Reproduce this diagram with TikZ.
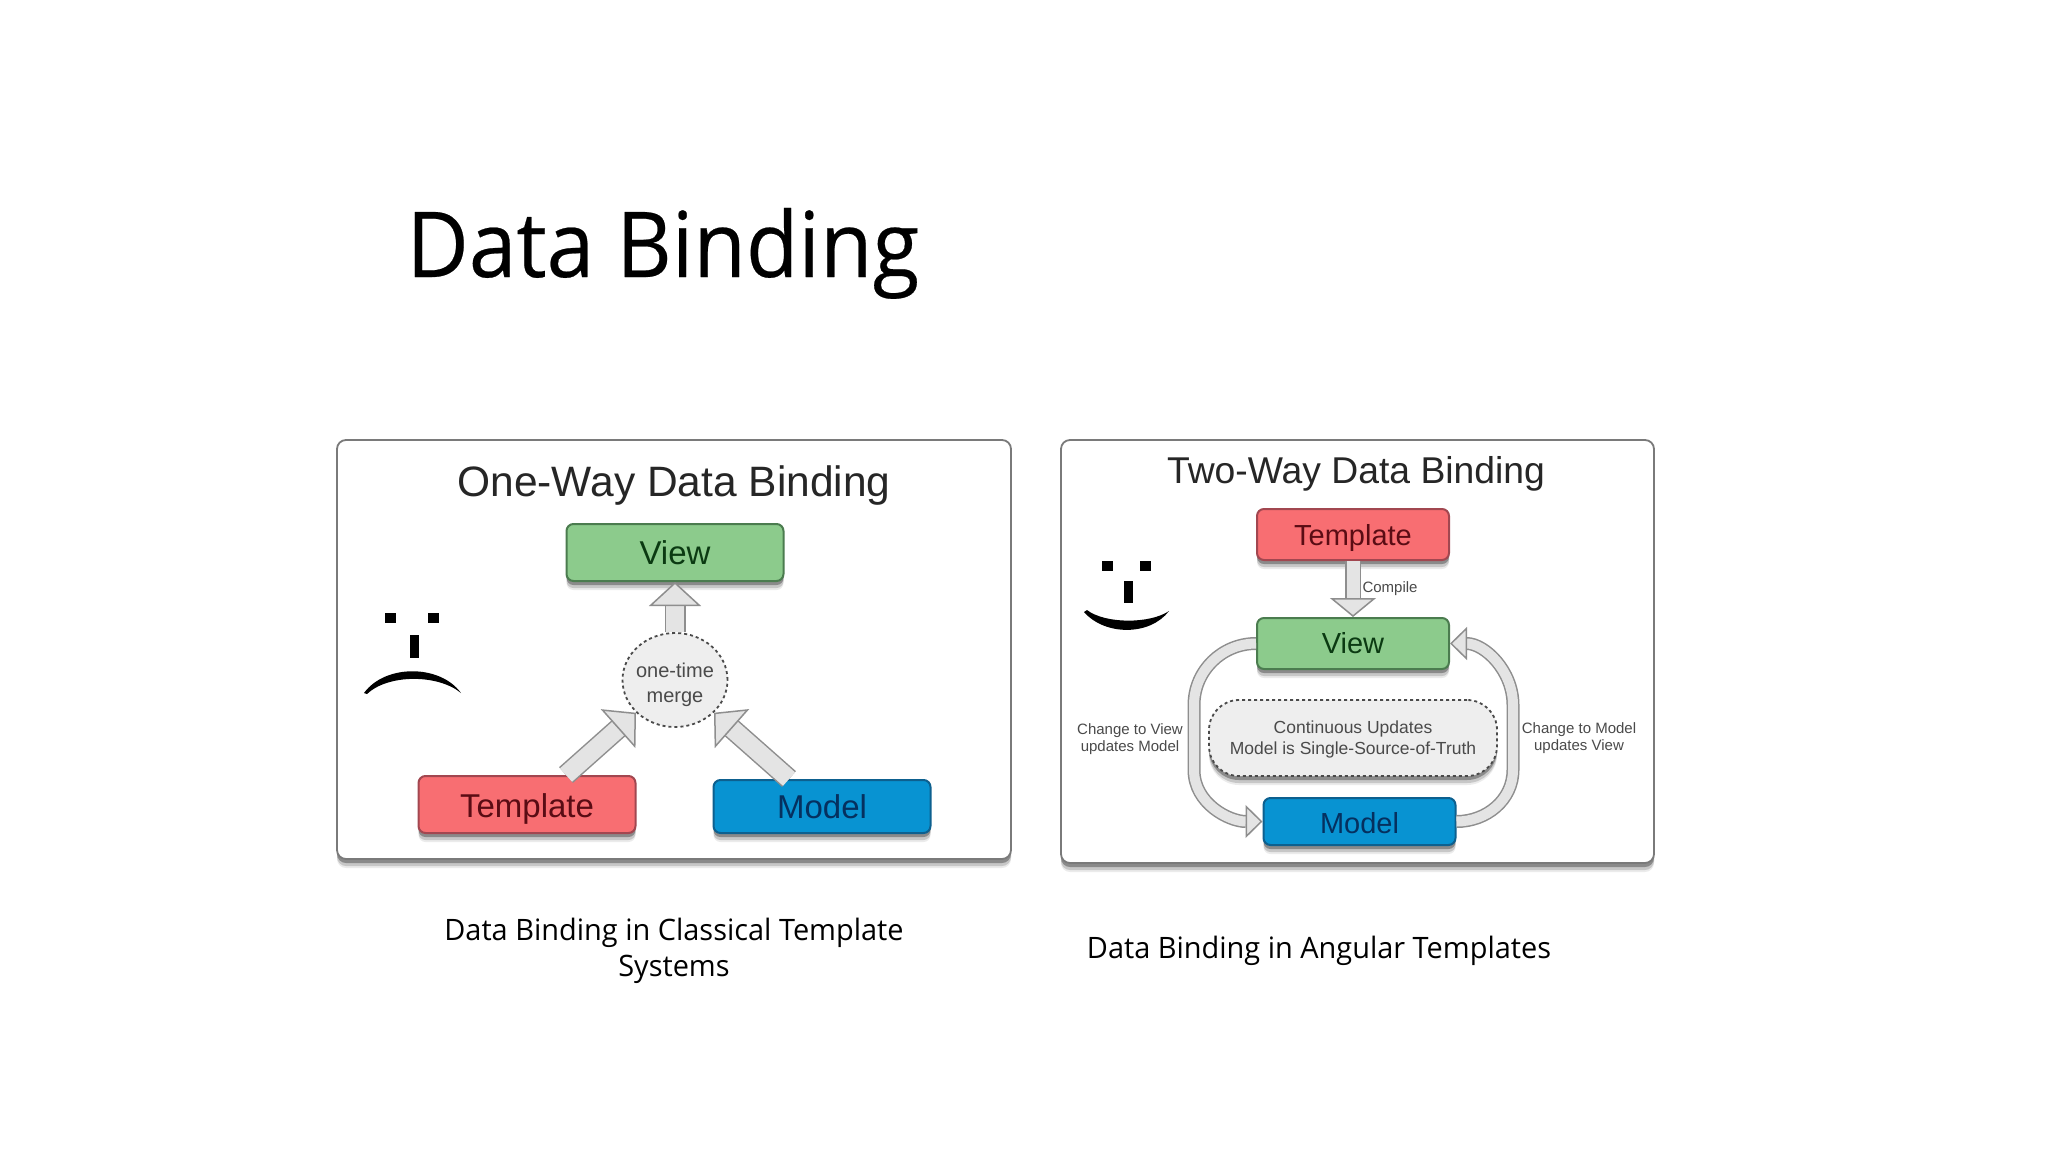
\documentclass[tikz,border=0pt]{standalone}
\usepackage{fontspec}
\setmainfont{Liberation Sans}
\newfontfamily\slidefont[FakeStretch=0.94,FakeBold=0.25]{Open Sans}
\newfontfamily\capfont[FakeStretch=0.98]{Open Sans}
\usetikzlibrary{arrows.meta,shapes.geometric,shadows,calc}
\newcommand{\lowertext}[2]{\raisebox{-#1}[\height][\depth]{#2}}
\definecolor{cardline}{HTML}{7A7A7A}
\definecolor{greenfill}{HTML}{8CCB8C}
\definecolor{greenline}{HTML}{4B7C4F}
\definecolor{greentext}{HTML}{0B3A12}
\definecolor{redfill}{HTML}{F86E72}
\definecolor{redline}{HTML}{A24750}
\definecolor{redtext}{HTML}{5A0C14}
\definecolor{bluefill}{HTML}{0893D2}
\definecolor{blueline}{HTML}{0D608F}
\definecolor{bluetext}{HTML}{05305F}
\definecolor{arrowfill}{HTML}{E4E4E4}
\definecolor{arrowline}{HTML}{8E8E8E}
\definecolor{softfill}{HTML}{EEEEEE}
\definecolor{softtext}{HTML}{4A4A4A}
\tikzset{
  softshadow/.style={drop shadow={shadow xshift=0pt,shadow yshift=-9pt,opacity=.08,fill=black},
                     drop shadow={shadow xshift=0pt,shadow yshift=-7pt,opacity=.15,fill=black},
                     drop shadow={shadow xshift=0pt,shadow yshift=-4pt,opacity=.30,fill=black}},
  card/.style={draw=cardline,line width=1.8pt,fill=white,rounded corners=9pt,softshadow},
  boxbase/.style={rectangle,rounded corners=7pt,line width=2pt,inner sep=0pt,softshadow},
  greenbox/.style={boxbase,draw=greenline,fill=greenfill,text=greentext},
  redbox/.style={boxbase,draw=redline,fill=redfill,text=redtext},
  bluebox/.style={boxbase,draw=blueline,fill=bluefill,text=bluetext},
  softdash/.style={draw=softtext,fill=softfill,dashed,line width=1.8pt,text=softtext,align=center},
  cardtitle/.style={text=black!85,inner sep=0pt},
  note/.style={text=softtext,align=center,inner sep=0pt},
  slidetext/.style={text=black,inner sep=0pt,align=center},
  bigarrow/.style={draw=arrowline,double=arrowfill,line width=1.5pt,double distance=18pt,
    -{Triangle[length=24pt,width=52pt,fill=arrowfill,line width=1.5pt]}},
  midarrow/.style={draw=arrowline,double=arrowfill,line width=1.5pt,double distance=13pt,
    -{Triangle[length=19pt,width=46pt,fill=arrowfill,line width=1.5pt]}},
  looparrow/.style={draw=arrowline,double=arrowfill,line width=1.5pt,double distance=10pt,
    -{Triangle[length=17pt,width=33pt,fill=arrowfill,line width=1.5pt]}},
}
\begin{document}
\begin{tikzpicture}[x=1pt,y=-1pt]
\useasboundingbox (0,0) rectangle (2048,1152);
\fill[white] (0,0) rectangle (2048,1152);

\node[slidetext,anchor=base,font=\slidefont\fontsize{91}{100}\selectfont] (heading) at (663,277) {Data Binding};

% left card
\node[card,minimum width=674pt,minimum height=419pt,inner sep=0pt] (cardL) at (674,649.5) {};
\node[cardtitle,font=\fontsize{42.5}{48}\selectfont] (titleL) at (674,486) {One-Way Data Binding};
\node[greenbox,minimum width=217pt,minimum height=57pt,font=\fontsize{33}{38}\selectfont] (viewL) at (675,552.5) {View};
\node[redbox,minimum width=217pt,minimum height=57pt,font=\fontsize{33}{38}\selectfont] (tplL) at (527,804.5) {\lowertext{4pt}{Template}};
\node[bluebox,minimum width=217pt,minimum height=53pt,font=\fontsize{33}{38}\selectfont] (modelL) at (822,806.5) {Model};
\node[ellipse,softdash,minimum width=105pt,minimum height=94pt,inner sep=-6pt,font=\fontsize{20}{25}\selectfont] (merge) at (675,680) {\lowertext{5pt}{one-time}\\\lowertext{5pt}{merge}};
\draw[bigarrow] (merge.north) -- (viewL.south);
\draw[bigarrow] ($(tplL.north)+(39,0)$) -- (merge.220);
\draw[bigarrow] ($(modelL.north)+(-33,0)$) -- (merge.-40);

% sad face
\fill (385,613) rectangle (396,623);
\fill (427.5,613) rectangle (438.5,623);
\fill (410,635) rectangle (418.5,658);
\fill (364,693) .. controls (385,664) and (440,664) .. (461,693)
      .. controls (438,674) and (388,674) .. (367,694) -- cycle;

% right card
\node[card,minimum width=593pt,minimum height=423pt,inner sep=0pt] (cardR) at (1357.5,651.5) {};
\node[cardtitle,font=\fontsize{37.3}{42}\selectfont] (titleR) at (1356,474) {Two-Way Data Binding};
\node[redbox,minimum width=192pt,minimum height=51pt,font=\fontsize{29}{34}\selectfont] (tplR) at (1353,534.5) {\lowertext{3pt}{Template}};
\node[greenbox,minimum width=192pt,minimum height=51pt,font=\fontsize{29}{34}\selectfont] (viewR) at (1353,643.5) {View};
\node[bluebox,minimum width=192pt,minimum height=47pt,font=\fontsize{29}{34}\selectfont] (modelR) at (1359.5,821.5) {\lowertext{1.5pt}{Model}};
\node[softdash,rectangle,rounded corners=30pt,minimum width=288pt,minimum height=76pt,inner sep=0pt,font=\fontsize{17.5}{21}\selectfont,softshadow] (pill) at (1353,738) {\lowertext{1.5pt}{Continuous Updates}\\\lowertext{1.5pt}{Model is Single-Source-of-Truth}};
\node[note,font=\fontsize{15}{18}\selectfont] (compile) at (1390,589) {Compile};
\node[note,font=\fontsize{15}{17}\selectfont] (noteL) at (1130,739) {Change to View\\updates Model};
\node[note,font=\fontsize{15}{17}\selectfont] (noteR) at (1579,738) {Change to Model\\updates View};
\coordinate (lTop) at (1194,705);
\coordinate (lBot) at (1194,770);
\coordinate (rTop) at (1513,705);
\coordinate (rBot) at (1513,770);
\draw[midarrow] (tplR.south) -- (viewR.north);
\draw[looparrow] (viewR.west) to[out=180,in=90] (lTop) -- (lBot) to[out=-90,in=180] (modelR.west);
\draw[looparrow] (modelR.east) to[out=0,in=-90] (rBot) -- (rTop) to[out=90,in=0] (viewR.east);

% smile
\fill (1102,561) rectangle (1113,571);
\fill (1139.5,561) rectangle (1150.5,571);
\fill (1124,581) rectangle (1132.5,603);
\fill (1084,612) .. controls (1105,636) and (1150,636) .. (1169,611)
      .. controls (1150,624) and (1105,624) .. (1087,610) -- cycle;

% captions
\node[slidetext,font=\capfont\fontsize{29.5}{36}\selectfont] (capL) at (674,951) {Data Binding in Classical Template\\Systems};
\node[slidetext,font=\capfont\fontsize{29.5}{36}\selectfont] (capR) at (1319,951) {Data Binding in Angular Templates};
\end{tikzpicture}
\end{document}
